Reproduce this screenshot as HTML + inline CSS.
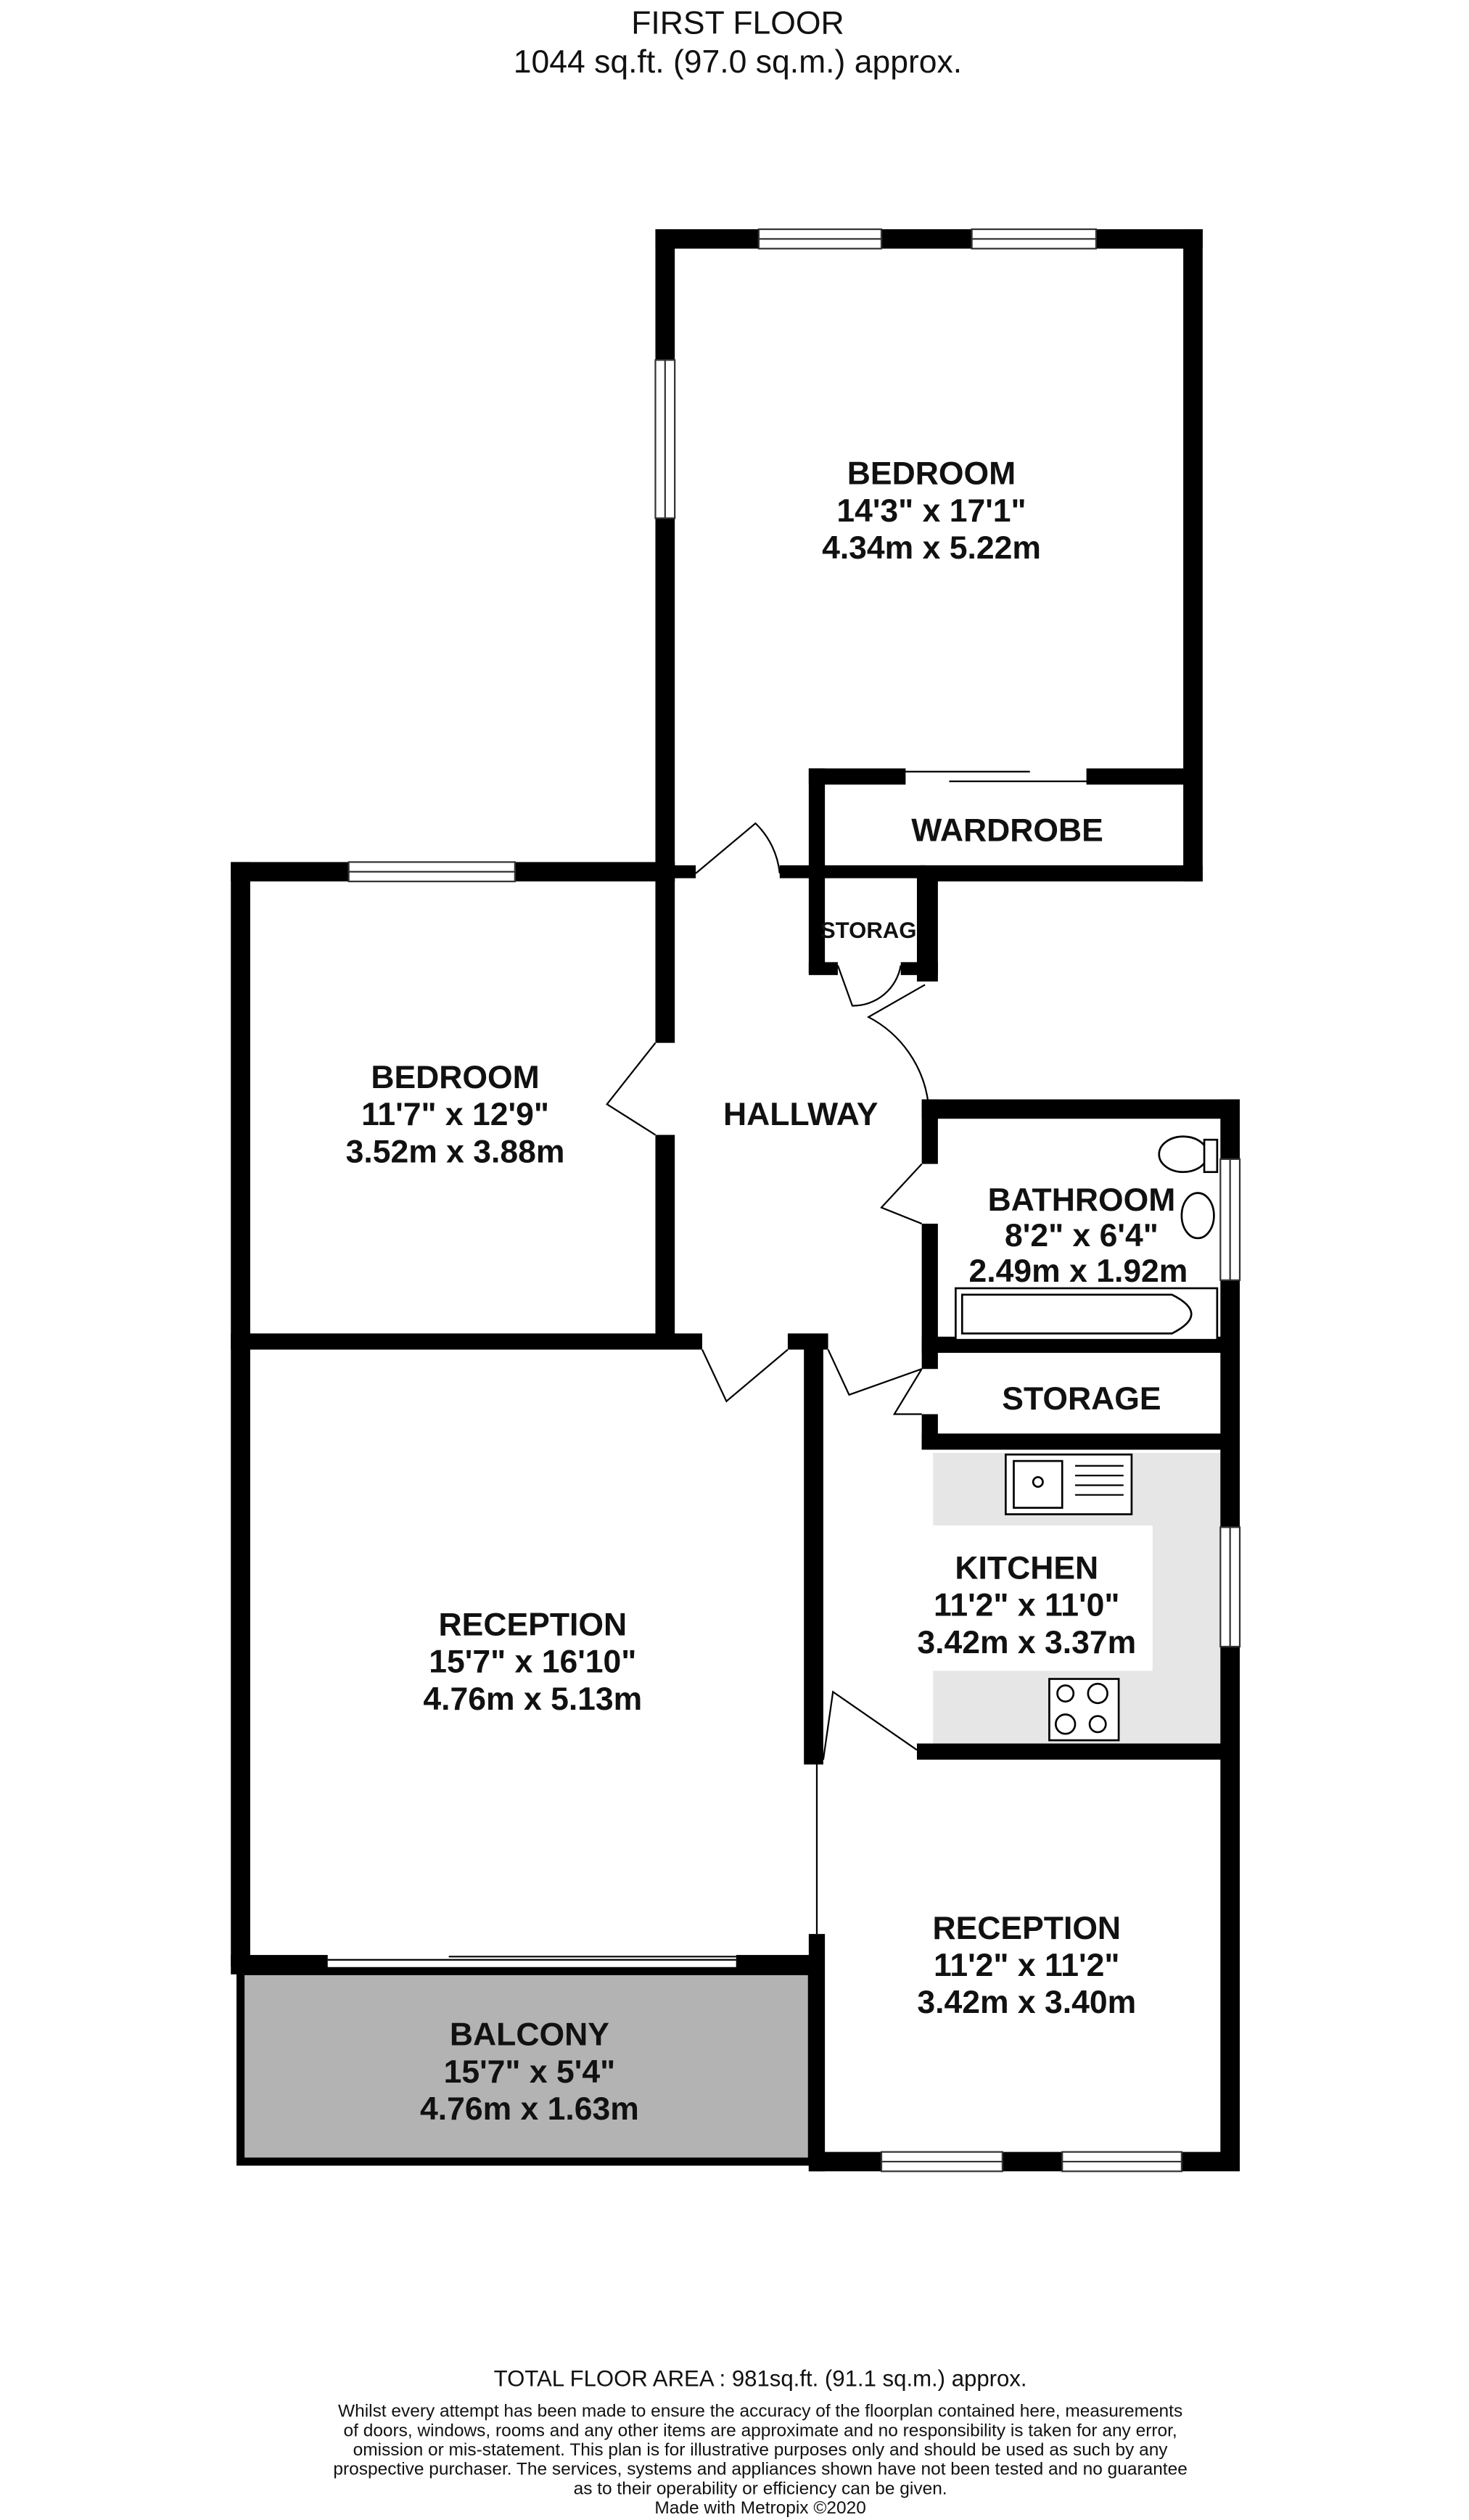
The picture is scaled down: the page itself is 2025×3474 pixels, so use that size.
<!DOCTYPE html>
<html><head><meta charset="utf-8"><style>
html,body{margin:0;padding:0;background:#fff}
svg{display:block}
text{font-family:"Liberation Sans",sans-serif;fill:#111}
.b{font-weight:bold;font-size:20px}
</style></head><body>
<svg width="2025" height="3474" viewBox="0 0 910 1561" preserveAspectRatio="none" xmlns="http://www.w3.org/2000/svg">
<rect width="910" height="1561" fill="#fff"/>
<text x="457" y="21" font-size="20" text-anchor="middle">FIRST FLOOR</text>
<text x="457" y="45" font-size="20" text-anchor="middle">1044 sq.ft. (97.0 sq.m.) approx.</text>

<rect x="578" y="900" width="180" height="182" fill="#e6e6e6"/>
<rect x="578" y="945" width="136" height="90" fill="#fff"/>
<rect x="150" y="1222" width="352" height="116" fill="#b3b3b3"/>

<g fill="#000" transform="translate(-2,-2)">
<rect x="408" y="144" width="339" height="12"/>
<rect x="408" y="144" width="12" height="404"/>
<rect x="735" y="144" width="12" height="404"/>
<rect x="503" y="478" width="60" height="10"/>
<rect x="675" y="478" width="70" height="10"/>
<rect x="503" y="478" width="10" height="127"/>
<rect x="572" y="538" width="175" height="10"/>
<rect x="485" y="538" width="90" height="8"/>
<rect x="408" y="538" width="25" height="8"/>
<rect x="145" y="536" width="275" height="12"/>
<rect x="145" y="536" width="12" height="684"/>
<rect x="408" y="536" width="12" height="112"/>
<rect x="408" y="705" width="12" height="130"/>
<rect x="145" y="828" width="292" height="10"/>
<rect x="490" y="828" width="25" height="10"/>
<rect x="570" y="540" width="13" height="70"/>
<rect x="503" y="598" width="18" height="8"/>
<rect x="560" y="598" width="23" height="8"/>
<rect x="573" y="683" width="197" height="12"/>
<rect x="573" y="683" width="10" height="40"/>
<rect x="573" y="760" width="10" height="90"/>
<rect x="758" y="683" width="12" height="662"/>
<rect x="573" y="830" width="197" height="10"/>
<rect x="573" y="878" width="10" height="22"/>
<rect x="573" y="890" width="197" height="10"/>
<rect x="500" y="830" width="12" height="265"/>
<rect x="570" y="1082" width="200" height="10"/>
<rect x="145" y="1213" width="60" height="12"/>
<rect x="458" y="1213" width="54" height="12"/>
<rect x="503" y="1200" width="10" height="147"/>
<rect x="503" y="1335" width="267" height="12"/>
</g>
<rect x="149" y="1221" width="354" height="118" fill="none" stroke="#000" stroke-width="5"/>

<g fill="#fff" stroke="#333" stroke-width="1" transform="translate(-2,-2)">
<rect x="472" y="144" width="76" height="12"/><line x1="472" y1="150" x2="548" y2="150"/>
<rect x="604" y="144" width="77" height="12"/><line x1="604" y1="150" x2="681" y2="150"/>
<rect x="408" y="225" width="12" height="98"/><line x1="414" y1="225" x2="414" y2="323"/>
<rect x="218" y="536" width="103" height="12"/><line x1="218" y1="542" x2="321" y2="542"/>
<rect x="758" y="720" width="12" height="75"/><line x1="764" y1="720" x2="764" y2="795"/>
<rect x="758" y="948" width="12" height="74"/><line x1="764" y1="948" x2="764" y2="1022"/>
<rect x="548" y="1335" width="75" height="12"/><line x1="548" y1="1341" x2="623" y2="1341"/>
<rect x="660" y="1335" width="74" height="12"/><line x1="660" y1="1341" x2="734" y2="1341"/>
</g>

<g fill="none" stroke="#000" stroke-width="1" transform="translate(-2,-2)">
<line x1="563" y1="480" x2="640" y2="480"/><line x1="590" y1="486" x2="675" y2="486"/>
<path d="M433 543 L470 512 A50 50 0 0 1 485 543"/>
<path d="M408 648 L378 686 L408 705"/>
<path d="M437 838 L452 870 L490 838"/>
<path d="M521 600 L530 625 A30 30 0 0 0 560 600"/>
<path d="M575 612 L540 632 A70 70 0 0 1 577 685"/>
<path d="M573 723 L548 750 L573 760"/>
<path d="M515 838 L528 866 L573 850"/>
<path d="M573 850 L556 878 L573 878"/>
<path d="M512 1092 L518 1050 L570 1086"/>
<line x1="508" y1="1095" x2="508" y2="1200"/>
<line x1="205" y1="1216" x2="458" y2="1216"/>
<line x1="205" y1="1222" x2="380" y2="1222"/><line x1="280" y1="1214" x2="458" y2="1214"/>
</g>

<g fill="#fff" stroke="#000" stroke-width="1.2" transform="translate(-2,-2)">
<rect x="594" y="800" width="162" height="32"/>
<path d="M598 804 L728 804 Q752 816 728 828 L598 828 Z"/>
<ellipse cx="735" cy="717" rx="15" ry="11"/>
<rect x="748" y="708" width="8" height="20"/>
<ellipse cx="744" cy="755" rx="10" ry="14"/>
<rect x="625" y="903" width="78" height="37"/>
<rect x="630" y="907" width="30" height="29"/>
<circle cx="645" cy="920" r="3"/>
<rect x="652" y="1042" width="43" height="38"/>
<circle cx="662" cy="1051" r="5"/><circle cx="682" cy="1051" r="6"/>
<circle cx="662" cy="1070" r="6"/><circle cx="682" cy="1070" r="5"/>
</g>
<g stroke="#000" stroke-width="1" transform="translate(-2,-2)">
<line x1="668" y1="910" x2="698" y2="910"/><line x1="668" y1="916" x2="698" y2="916"/>
<line x1="668" y1="922" x2="698" y2="922"/><line x1="668" y1="928" x2="698" y2="928"/>
</g>

<g class="b" text-anchor="middle" xml:space="preserve">
<text x="577" y="300">BEDROOM</text>
<text x="577" y="323">14'3"  x 17'1"</text>
<text x="577" y="346">4.34m  x 5.22m</text>
<text x="624" y="521">WARDROBE</text>
<text x="538" y="581" font-size="14">STORAG</text>
<text x="282" y="674">BEDROOM</text>
<text x="282" y="697">11'7"  x 12'9"</text>
<text x="282" y="720">3.52m  x 3.88m</text>
<text x="496" y="697">HALLWAY</text>
<text x="670" y="750">BATHROOM</text>
<text x="670" y="772">8'2"  x 6'4"</text>
<text x="668" y="794">2.49m  x 1.92m</text>
<text x="670" y="873">STORAGE</text>
<text x="636" y="978">KITCHEN</text>
<text x="636" y="1001">11'2"  x 11'0"</text>
<text x="636" y="1024">3.42m  x 3.37m</text>
<text x="330" y="1013">RECEPTION</text>
<text x="330" y="1036">15'7"  x 16'10"</text>
<text x="330" y="1059">4.76m  x 5.13m</text>
<text x="636" y="1201">RECEPTION</text>
<text x="636" y="1224">11'2"  x 11'2"</text>
<text x="636" y="1247">3.42m  x 3.40m</text>
<text x="328" y="1267">BALCONY</text>
<text x="328" y="1290">15'7"  x 5'4"</text>
<text x="328" y="1313">4.76m  x 1.63m</text>
</g>

<g text-anchor="middle" font-size="11">
<text x="471" y="1478" font-size="14">TOTAL FLOOR AREA : 981sq.ft. (91.1 sq.m.) approx.</text>
<text x="471" y="1497">Whilst every attempt has been made to ensure the accuracy of the floorplan contained here, measurements</text>
<text x="471" y="1509">of doors, windows, rooms and any other items are approximate and no responsibility is taken for any error,</text>
<text x="471" y="1521">omission or mis-statement. This plan is for illustrative purposes only and should be used as such by any</text>
<text x="471" y="1533">prospective purchaser. The services, systems and appliances shown have not been tested and no guarantee</text>
<text x="471" y="1545">as to their operability or efficiency can be given.</text>
<text x="471" y="1557">Made with Metropix ©2020</text>
</g>
</svg>
</body></html>
